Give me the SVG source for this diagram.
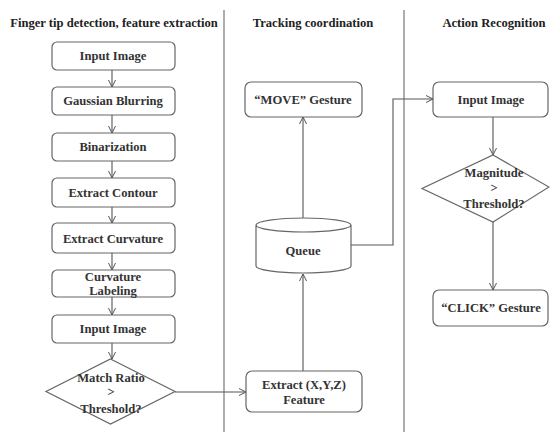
<svg xmlns="http://www.w3.org/2000/svg" width="550" height="432" viewBox="0 0 550 432">
<defs>
<marker id="arr" markerWidth="10" markerHeight="10" refX="8" refY="5" orient="auto" markerUnits="userSpaceOnUse">
<path d="M1,1.5 L8,5 L1,8.5" fill="none" stroke="#555" stroke-width="1"/>
</marker>
<style>
.box{fill:#fff;stroke:#666;stroke-width:1.2}
.t{font-family:"Liberation Serif","Times New Roman",serif;font-weight:bold;font-size:12.6px;fill:#333;text-anchor:middle}
.h{font-family:"Liberation Serif","Times New Roman",serif;font-weight:bold;font-size:12.6px;fill:#222;text-anchor:middle}
.c{fill:none;stroke:#555;stroke-width:1.1}
.div{stroke:#777;stroke-width:1.2}
</style>
</defs>
<rect width="550" height="432" fill="#fff"/>
<g id="dividers">
<line class="div" x1="224" y1="10" x2="224" y2="432"/>
<line class="div" x1="404" y1="10" x2="404" y2="432"/>
</g>
<g id="titles">
<text class="h" x="114" y="27">Finger tip detection, feature extraction</text>
<text class="h" x="313" y="27">Tracking coordination</text>
<text class="h" x="494" y="27">Action Recognition</text>
</g>
<g id="connectors">
<line class="c" x1="112" y1="70" x2="112" y2="87" marker-end="url(#arr)"/>
<line class="c" x1="112" y1="115" x2="112" y2="133" marker-end="url(#arr)"/>
<line class="c" x1="112" y1="161" x2="112" y2="178" marker-end="url(#arr)"/>
<line class="c" x1="112" y1="207" x2="112" y2="223" marker-end="url(#arr)"/>
<line class="c" x1="112" y1="253" x2="112" y2="270" marker-end="url(#arr)"/>
<line class="c" x1="112" y1="297" x2="112" y2="315" marker-end="url(#arr)"/>
<line class="c" x1="112" y1="343" x2="112" y2="359" marker-end="url(#arr)"/>
<line class="c" x1="175" y1="392" x2="246" y2="392" marker-end="url(#arr)"/>
<line class="c" x1="303" y1="371" x2="303" y2="274" marker-end="url(#arr)"/>
<line class="c" x1="303" y1="218" x2="303" y2="117" marker-end="url(#arr)"/>
<polyline class="c" points="351,245 393,245 393,99 433,99" marker-end="url(#arr)"/>
<line class="c" x1="493" y1="117" x2="493" y2="155" marker-end="url(#arr)"/>
<line class="c" x1="493" y1="222" x2="493" y2="290" marker-end="url(#arr)"/>
</g>
<g id="n1"><rect class="box" x="52" y="42" width="123" height="28" rx="5"/><text class="t" x="113" y="60">Input Image</text></g>
<g id="n2"><rect class="box" x="52" y="87" width="123" height="28" rx="5"/><text class="t" x="113" y="105">Gaussian Blurring</text></g>
<g id="n3"><rect class="box" x="52" y="133" width="123" height="28" rx="5"/><text class="t" x="113" y="151">Binarization</text></g>
<g id="n4"><rect class="box" x="52" y="178" width="123" height="29" rx="5"/><text class="t" x="113" y="197">Extract Contour</text></g>
<g id="n5"><rect class="box" x="52" y="223" width="123" height="30" rx="5"/><text class="t" x="113" y="243">Extract Curvature</text></g>
<g id="n6"><rect class="box" x="52" y="270" width="123" height="27" rx="5"/><text class="t" x="113" y="281">Curvature</text><text class="t" x="113" y="295">Labeling</text></g>
<g id="n7"><rect class="box" x="52" y="315" width="123" height="28" rx="5"/><text class="t" x="113" y="333">Input Image</text></g>
<g id="n8"><polygon class="box" points="110.5,359 175,391.5 110.5,424 46,391.5"/><text class="t" x="111" y="382">Match Ratio</text><text class="t" x="111" y="396">&gt;</text><text class="t" x="111" y="413">Threshold?</text></g>
<g id="n9"><rect class="box" x="246" y="371" width="116" height="41" rx="6"/><text class="t" x="304" y="389">Extract (X,Y,Z)</text><text class="t" x="304" y="404">Feature</text></g>
<g id="n10"><path class="box" d="M256,225 L256,266 A47.5,7 0 0 0 351,266 L351,225 A47.5,7 0 0 0 256,225 A47.5,7 0 0 0 351,225"/><text class="t" x="303" y="255">Queue</text></g>
<g id="n11"><rect class="box" x="245" y="82" width="117" height="35" rx="6"/><text class="t" x="303" y="104">“MOVE” Gesture</text></g>
<g id="n12"><rect class="box" x="433" y="82" width="115" height="35" rx="6"/><text class="t" x="491" y="104">Input Image</text></g>
<g id="n13"><polygon class="box" points="493,155 549,187 493,222 422,188.5"/><text class="t" x="494" y="177">Magnitude</text><text class="t" x="494" y="192">&gt;</text><text class="t" x="494" y="208">Threshold?</text></g>
<g id="n14"><rect class="box" x="433" y="290" width="115" height="36" rx="6"/><text class="t" x="491" y="312">“CLICK” Gesture</text></g>
</svg>
